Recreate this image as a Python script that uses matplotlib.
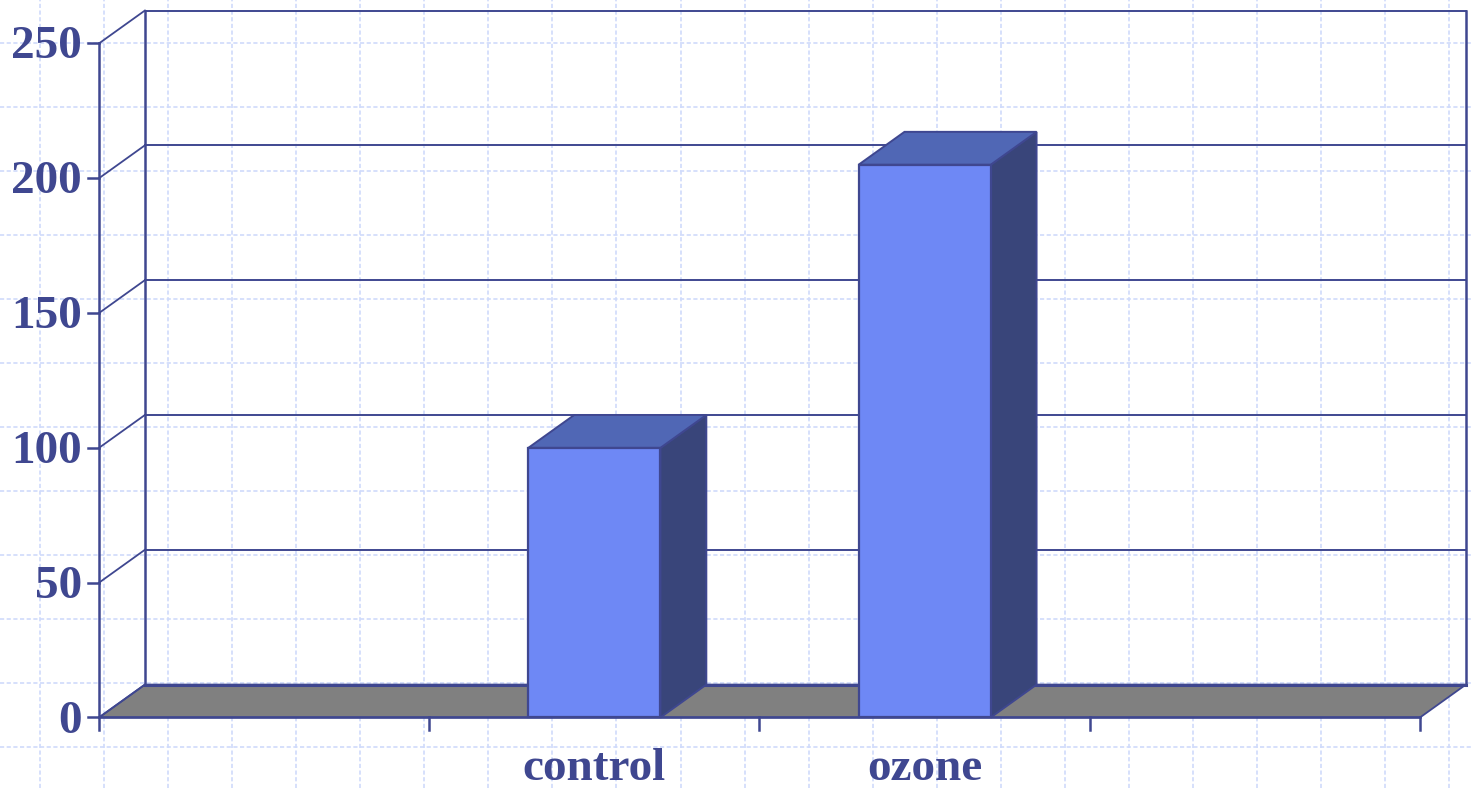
import numpy as np
import matplotlib.pyplot as plt
from matplotlib.patches import Polygon

# data
categories = ["", "control", "ozone", ""]
values = [0, 100, 205, 0]
ytick_vals = [0, 50, 100, 150, 200, 250]

# colours
navy = "#3f4790"
front_col = "#6e88f5"
top_col = "#5067b5"
side_col = "#39457a"
floor_col = "#808080"
paper_grid = "#cfdafb"

# pseudo 3d depth (in category units / value units)
dx, dy = 0.139, 12.2
bar_w = 0.4
ymax = 250

fig = plt.figure(figsize=(14.72, 7.88), dpi=100)

# background graph-paper pattern
bg = fig.add_axes([0, 0, 1, 1])
bg.set_xlim(0, 1472)
bg.set_ylim(788, 0)
bg.set_xticks(np.arange(40, 1472, 64.05))
bg.set_yticks(np.arange(43, 788, 64))
bg.grid(True, color=paper_grid, lw=1.2, ls=(0, (2.5, 1.5)))
bg.tick_params(length=0, labelbottom=False, labelleft=False)
for s in bg.spines.values():
    s.set_visible(False)

ax = fig.add_axes([0, 0, 1, 1])
ax.patch.set_alpha(0)
n = len(categories)
ax.set_xlim(-0.2998, 4.1575)
ax.set_ylim(-26.15, 266.1)
ax.axis("off")

# floor
ax.add_patch(Polygon([(0, 0), (n, 0), (n + dx, dy), (dx, dy)],
                     closed=True, fc=floor_col, ec=navy, lw=1.3, zorder=1))

# back wall gridlines + side-wall diagonals
for v in ytick_vals:
    ax.plot([dx, n + dx], [v + dy, v + dy], color=navy, lw=1.4, zorder=2)
    ax.plot([0, dx], [v, v + dy], color=navy, lw=1.3, zorder=2)
ax.plot([dx, dx], [dy, ymax + dy], color=navy, lw=1.8, zorder=2)
ax.plot([n + dx, n + dx], [dy, ymax + dy], color=navy, lw=1.8, zorder=2)
ax.plot([dx, n + dx], [dy, dy], color=navy, lw=2.2, zorder=2)

# front axes
ax.plot([0, 0], [-4.5, ymax], color=navy, lw=1.8, zorder=5)
ax.plot([0, n], [0, 0], color=navy, lw=1.8, zorder=5)
for v in ytick_vals:
    ax.plot([-0.034, 0], [v, v], color=navy, lw=1.8, zorder=5)
    ax.text(-0.052, v - 1.5, str(v), ha="right", va="center", color=navy,
            fontsize=34, fontweight="bold", family="Liberation Serif")
for i in range(1, n + 1):
    ax.plot([i, i], [0, -4.5], color=navy, lw=1.8, zorder=5)

# bars
for i, (lab, v) in enumerate(zip(categories, values)):
    c = i + 0.5
    if v > 0:
        x0, x1 = c - bar_w / 2, c + bar_w / 2
        ax.add_patch(Polygon([(x1, 0), (x1 + dx, dy), (x1 + dx, v + dy), (x1, v)],
                             closed=True, fc=side_col, ec=navy, lw=1.4, zorder=6))
        ax.add_patch(Polygon([(x0, v), (x0 + dx, v + dy), (x1 + dx, v + dy), (x1, v)],
                             closed=True, fc=top_col, ec=navy, lw=1.4, zorder=6))
        ax.add_patch(Polygon([(x0, 0), (x1, 0), (x1, v), (x0, v)],
                             closed=True, fc=front_col, ec=navy, lw=1.6, zorder=7))
    if lab:
        ax.text(c, -19.2, lab, ha="center", va="center", color=navy,
                fontsize=34, fontweight="bold", family="Liberation Serif")

fig.savefig("out.png", dpi=100)
